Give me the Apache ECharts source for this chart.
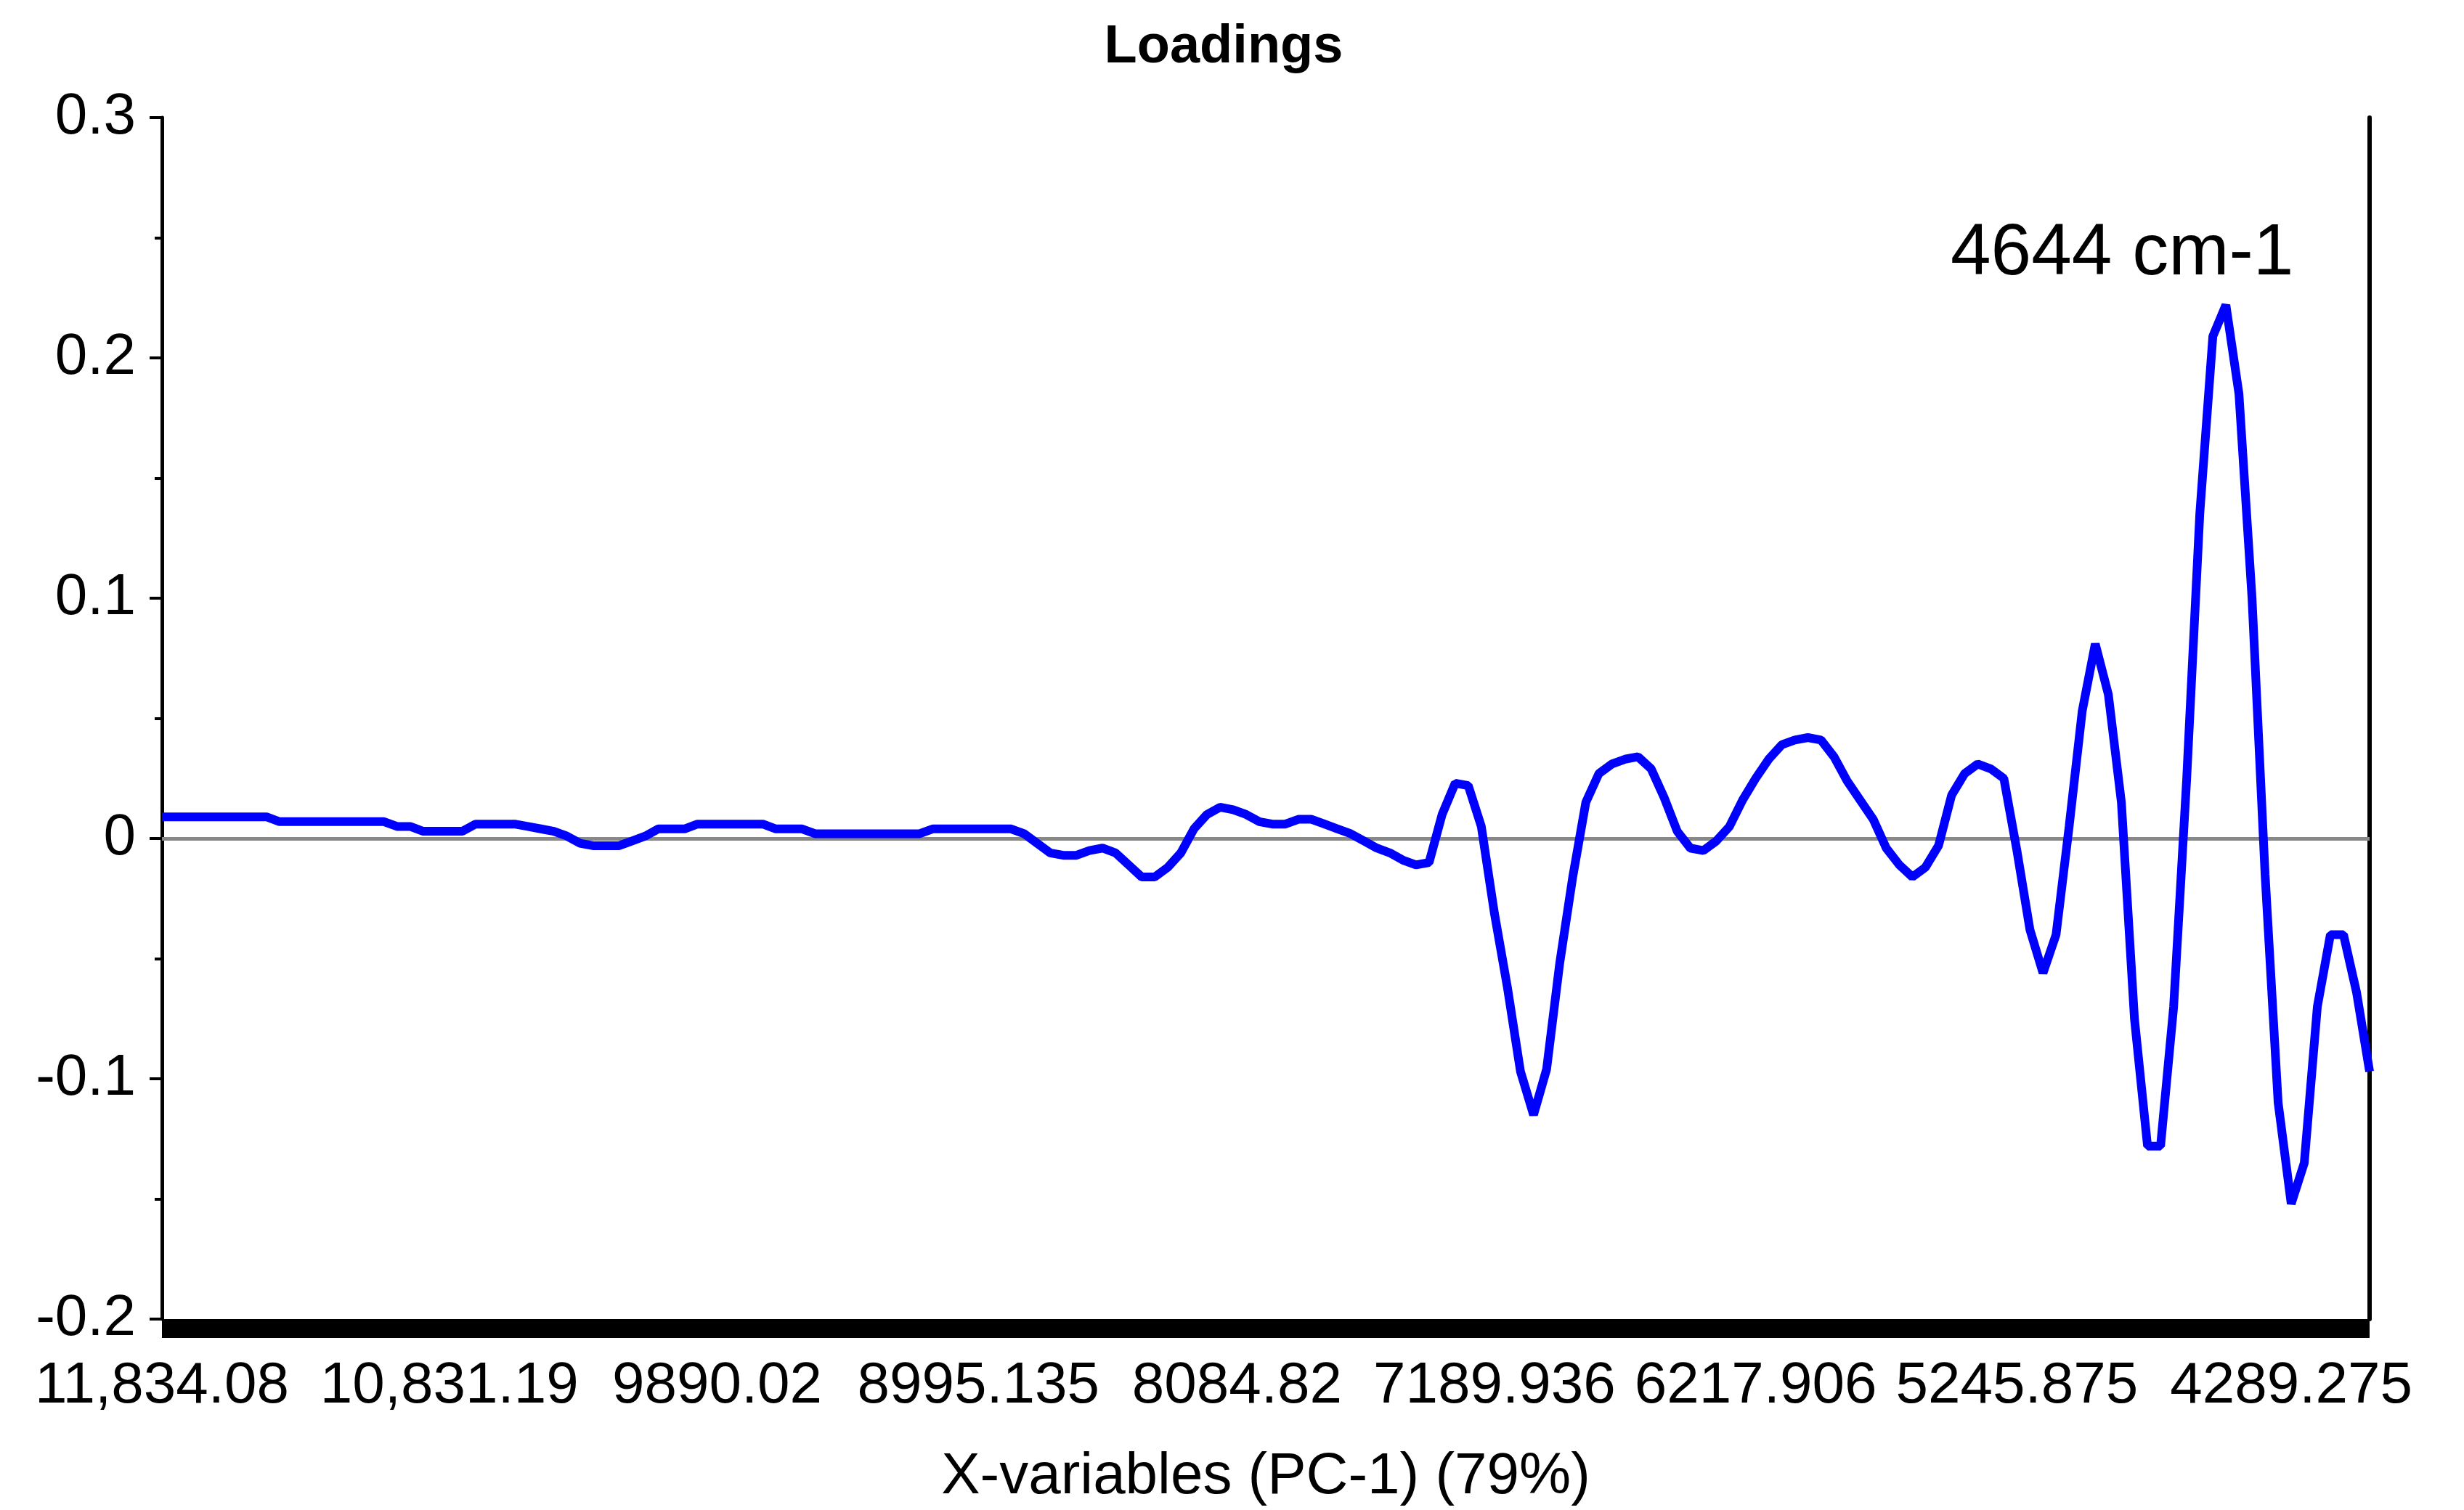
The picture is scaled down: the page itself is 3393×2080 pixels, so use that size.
<!DOCTYPE html>
<html>
<head>
<meta charset="utf-8">
<script src="https://cdn.jsdelivr.net/npm/echarts@6/dist/echarts.min.js"></script>
<style>
  html, body { margin: 0; padding: 0; background: #fff; }
  #chart { width: 3393px; height: 2080px; }
</style>
</head>
<body>
<div id="chart"></div>
<script>
// loading values, one per variable index
var loadings = [
  0.009, 0.009, 0.009, 0.009, 0.009, 0.009, 0.009, 0.009, 0.009,
  0.007, 0.007, 0.007, 0.007, 0.007, 0.007, 0.007, 0.007, 0.007,
  0.005, 0.005, 0.003, 0.003, 0.003, 0.003,
  0.006, 0.006, 0.006, 0.006, 0.005, 0.004, 0.003, 0.001,
  -0.002, -0.003, -0.003, -0.003, -0.001, 0.001, 0.004, 0.004, 0.004,
  0.006, 0.006, 0.006, 0.006, 0.006, 0.006,
  0.004, 0.004, 0.004,
  0.002, 0.002, 0.002, 0.002, 0.002, 0.002, 0.002, 0.002, 0.002,
  0.004, 0.004, 0.004, 0.004, 0.004, 0.004, 0.004,
  0.002, -0.002, -0.006, -0.007, -0.007, -0.005, -0.004, -0.006, -0.011, -0.016, -0.016,
  -0.012, -0.006, 0.004, 0.010, 0.013, 0.012, 0.010, 0.007, 0.006, 0.006, 0.008, 0.008,
  0.006, 0.004, 0.002, -0.001, -0.004, -0.006, -0.009, -0.011, -0.010, 0.010, 0.023, 0.022,
  0.005, -0.031, -0.062, -0.097, -0.115, -0.096, -0.052, -0.016, 0.015, 0.027, 0.031, 0.033,
  0.034, 0.029, 0.017, 0.003, -0.004, -0.005, -0.001, 0.005, 0.016, 0.025, 0.033, 0.039,
  0.041, 0.042, 0.041, 0.034, 0.024, 0.016, 0.008, -0.004, -0.011, -0.016, -0.012, -0.003,
  0.018, 0.027, 0.031, 0.029, 0.025, -0.005, -0.038, -0.056, -0.040, 0.005, 0.053, 0.081,
  0.060, 0.015, -0.075, -0.128, -0.128, -0.070, 0.025, 0.135, 0.209, 0.222, 0.185, 0.100,
  -0.015, -0.110, -0.152, -0.135, -0.070, -0.040, -0.040, -0.064, -0.097
];
var tickPositions = [0, 22, 42.5, 62.5, 82.3, 102, 122, 142, 163];
var tickLabels = ['11,834.08', '10,831.19', '9890.02', '8995.135', '8084.82',
  '7189.936', '6217.906', '5245.875', '4289.275'];
var peakIndex = 158;
var peakLabel = '4644 cm-1';

var points = loadings.map(function (v, i) { return [i, v]; });

var chart = echarts.init(document.getElementById('chart'));
var font = 'Liberation Sans, Arial, sans-serif';

var option = {
  animation: false,
  backgroundColor: '#fff',
  title: {
    text: 'Loadings',
    left: 1680,
    textAlign: 'center',
    top: 24,
    textStyle: { fontFamily: font, fontSize: 74, fontWeight: 'bold', color: '#000' }
  },
  grid: { left: 223, right: 130, top: 162, bottom: 240 },
  xAxis: {
    type: 'value',
    min: 0,
    max: loadings.length - 1,
    offset: 13,
    name: 'X-variables (PC-1) (79%)',
    nameLocation: 'middle',
    nameGap: 165,
    nameTextStyle: { fontFamily: font, fontSize: 80, color: '#000' },
    axisLine: { show: true, onZero: false, lineStyle: { color: '#000', width: 26, cap: 'butt' } },
    axisTick: { show: false },
    splitLine: { show: false },
    axisLabel: {
      customValues: tickPositions,
      margin: 40,
      fontFamily: font,
      fontSize: 80,
      color: '#000',
      showMinLabel: true,
      showMaxLabel: true,
      formatter: function (v) {
        var k = tickPositions.indexOf(v);
        return k >= 0 ? tickLabels[k] : '';
      }
    }
  },
  yAxis: [
    {
      type: 'value',
      min: -0.2,
      max: 0.3,
      interval: 0.1,
      axisLine: { show: true, onZero: false, lineStyle: { color: '#000', width: 5 } },
      axisTick: { show: true, length: 17, lineStyle: { color: '#000', width: 4 } },
      minorTick: { show: true, splitNumber: 2, length: 10, lineStyle: { color: '#000', width: 4 } },
      splitLine: { show: false },
      axisLabel: { margin: 36, fontFamily: font, fontSize: 80, color: '#000' }
    },
    {
      type: 'value',
      position: 'right',
      min: -0.2,
      max: 0.3,
      interval: 0.1,
      axisLine: { show: true, onZero: false, lineStyle: { color: '#000', width: 6 } },
      axisTick: { show: false },
      axisLabel: { show: false },
      splitLine: { show: false }
    }
  ],
  series: [
    {
      type: 'line',
      data: points,
      showSymbol: false,
      symbol: 'none',
      lineStyle: { color: '#0000ff', width: 12 },
      markLine: {
        silent: true,
        symbol: 'none',
        label: { show: false },
        lineStyle: { color: '#888', width: 5, type: 'solid' },
        data: [{ yAxis: 0 }],
        z: 1
      },
      markPoint: {
        symbol: 'circle',
        symbolSize: 1,
        itemStyle: { color: 'rgba(0,0,0,0)' },
        label: {
          show: true,
          formatter: peakLabel,
          fontFamily: font,
          fontSize: 100,
          color: '#000',
          position: 'inside',
          offset: [-143, -70]
        },
        data: [{ coord: [peakIndex, loadings[peakIndex]] }]
      }
    }
  ]
};

chart.setOption(option);
</script>
</body>
</html>
